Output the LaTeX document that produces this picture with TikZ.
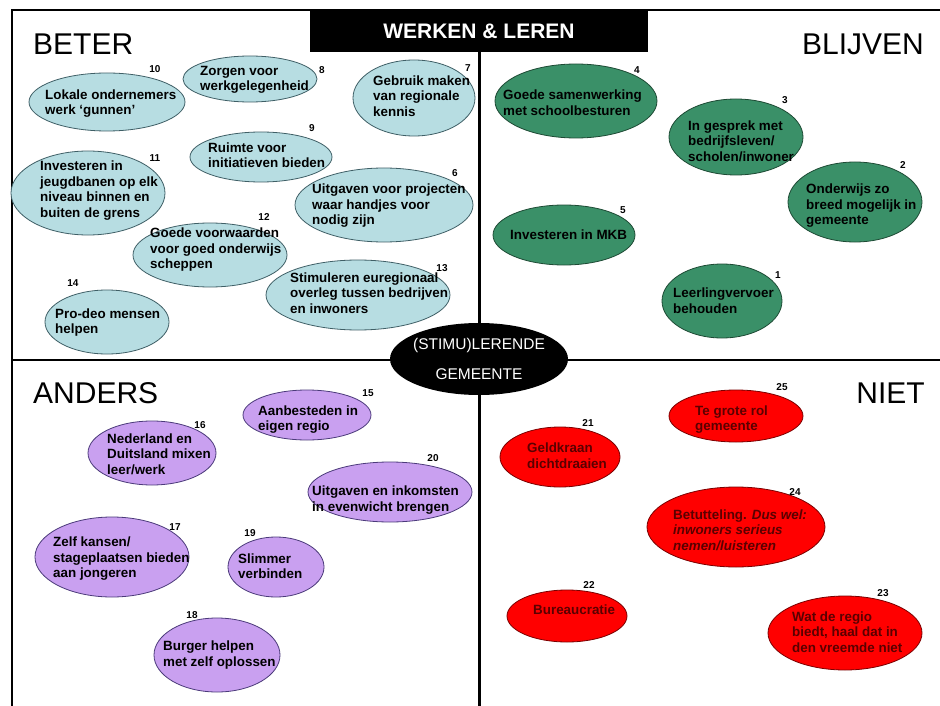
\documentclass[tikz,border=0pt]{standalone}
\usepackage{fontspec}
\setmainfont{Liberation Sans}
\usetikzlibrary{shapes.geometric}
\definecolor{lblue}{HTML}{B7DDE2}
\definecolor{lblueb}{HTML}{3F5F66}
\definecolor{mgreen}{HTML}{3A9068}
\definecolor{mgreenb}{HTML}{1D4A34}
\definecolor{lpurple}{HTML}{C9A0F0}
\definecolor{lpurpleb}{HTML}{4B3A7A}
\definecolor{bred}{HTML}{FF0000}
\definecolor{bredb}{HTML}{7A0000}
\definecolor{dred}{HTML}{5A0000}
\tikzset{
  bub/.style={ellipse, draw, line width=0.8pt, inner sep=0pt},
  bluebub/.style={bub, fill=lblue, draw=lblueb},
  greenbub/.style={bub, fill=mgreen, draw=mgreenb},
  purplebub/.style={bub, fill=lpurple, draw=lpurpleb},
  redbub/.style={bub, fill=bred, draw=bredb},
  txt/.style={anchor=west, inner sep=0pt, align=left, font=\bfseries\fontsize{13.4}{15.5}\selectfont},
  redtxt/.style={txt, text=dred},
  num/.style={inner sep=0pt, font=\bfseries\fontsize{10}{12}\selectfont},
  quad/.style={inner sep=0pt, font=\fontsize{30}{36}\selectfont},
  divider/.style={line width=2.5pt, black},
}
\newcommand{\bb}[5]{\node[#1, minimum width=#4*2pt, minimum height=#5*2pt] (#2) at #3 {};}
\begin{document}
\begin{tikzpicture}[x=1pt,y=-1pt]
\useasboundingbox[fill=white] (0,0) rectangle (940,706);
% frame
\coordinate (fbl) at (12,706);
\coordinate (ftl) at (12,10);
\coordinate (ftr) at (940,10);
\draw[line width=1.5pt] (fbl) -- (ftl) -- (ftr);
% dividers
\coordinate (vtop) at (479.5,52);
\coordinate (vbot) at (479.5,706);
\coordinate (hl) at (12,360);
\coordinate (hr) at (940,360);
\draw[divider] (vtop) -- (vbot);
\draw[divider] (hl) -- (hr);
% title
\node[fill=black, minimum width=338pt, minimum height=42pt, inner sep=0pt,
  text=white, font=\bfseries\fontsize{21}{24}\selectfont] (title) at (479,31) {WERKEN \& LEREN};
% quadrant labels
\node[quad, anchor=base west] (beter) at (33,55) {BETER};
\node[quad, anchor=base east] (blijven) at (924,55) {BLIJVEN};
\node[quad, anchor=base west] (anders) at (33,403) {ANDERS};
\node[quad, anchor=base east] (niet) at (925,403) {NIET};

% ---- BETER (blue)
\bb{bluebub}{e10}{(107,102)}{78}{29}
\bb{bluebub}{e8}{(250,79)}{67}{23}
\bb{bluebub}{e7}{(414,98)}{61}{38}
\bb{bluebub}{e9}{(261,157)}{71}{25}
\bb{bluebub}{e11}{(88,193)}{77}{42}
\bb{bluebub}{e6}{(384,205)}{89}{37}
\bb{bluebub}{e12}{(210,255)}{77}{32}
\bb{bluebub}{e13}{(358,295)}{92}{35}
\bb{bluebub}{e14}{(107,322)}{62}{32}
\node[txt] (t10) at (45,103.5) {Lokale ondernemers\\werk ‘gunnen’};
\node[txt] (t8) at (200,80) {Zorgen voor\\werkgelegenheid};
\node[txt] (t7) at (373,96) {Gebruik maken\\van regionale\\kennis};
\node[txt] (t9) at (208,155) {Ruimte voor\\initiatieven bieden};
\node[txt] (t11) at (40,190.5) {Investeren in\\jeugdbanen op elk\\niveau binnen en\\buiten de grens};
\node[txt] (t6) at (312,206) {Uitgaven voor projecten\\waar handjes voor\\nodig zijn};
\node[txt] (t12) at (150,250) {Goede voorwaarden\\voor goed onderwijs\\scheppen};
\node[txt] (t13) at (290,293) {Stimuleren euregionaal\\overleg tussen bedrijven\\en inwoners};
\node[txt] (t14) at (55,322.5) {Pro-deo mensen\\helpen};
\node[num] (n10) at (155,69) {10};
\node[num] (n8) at (322,70) {8};
\node[num] (n7) at (468,68) {7};
\node[num] (n9) at (312,128) {9};
\node[num] (n11) at (155,158) {11};
\node[num] (n6) at (455,173) {6};
\node[num] (n12) at (264,217) {12};
\node[num] (n13) at (442,268) {13};
\node[num] (n14) at (73,283) {14};

% ---- BLIJVEN (green)
\bb{greenbub}{e4}{(576,101)}{81}{37}
\bb{greenbub}{e3}{(736,137)}{67}{38}
\bb{greenbub}{e2}{(855,202)}{67}{40}
\bb{greenbub}{e5}{(564,235)}{71}{30}
\bb{greenbub}{e1}{(722,301)}{60}{37}
\node[txt] (t4) at (503,102.5) {Goede samenwerking\\met schoolbesturen};
\node[txt] (t3) at (688,141) {In gesprek met\\bedrijfsleven/\\scholen/inwoner};
\node[txt] (t2) at (806,206) {Onderwijs zo\\breed mogelijk in\\gemeente};
\node[txt] (t5) at (510,235) {Investeren in MKB};
\node[txt] (t1) at (673,300.5) {Leerlingvervoer\\behouden};
\node[num] (n4) at (637,70) {4};
\node[num] (n3) at (785,100) {3};
\node[num] (n2) at (903,165) {2};
\node[num] (n5) at (623,210) {5};
\node[num] (n1) at (778,275) {1};

% ---- ANDERS (purple)
\bb{purplebub}{e15}{(307,415)}{64}{25}
\bb{purplebub}{e16}{(152,453)}{64}{32}
\bb{purplebub}{e20}{(390,492)}{82}{30}
\bb{purplebub}{e17}{(112,557)}{77}{40}
\bb{purplebub}{e19}{(276,567)}{48}{30}
\bb{purplebub}{e18}{(217,655)}{63}{37}
\node[txt] (t15) at (258,419.5) {Aanbesteden in\\eigen regio};
\node[txt] (t16) at (107,454) {Nederland en\\Duitsland mixen\\leer/werk};
\node[txt] (t20) at (312,500) {Uitgaven en inkomsten\\in evenwicht brengen};
\node[txt] (t17) at (53,559) {Zelf kansen/\\stageplaatsen bieden\\aan jongeren};
\node[txt] (t19) at (238,566) {Slimmer\\verbinden};
\node[txt] (t18) at (163,655) {Burger helpen\\met zelf oplossen};
\node[num] (n15) at (368,393) {15};
\node[num] (n16) at (200,425) {16};
\node[num] (n20) at (433,458) {20};
\node[num] (n17) at (175,527) {17};
\node[num] (n19) at (250,533) {19};
\node[num] (n18) at (192,615) {18};

% ---- NIET (red)
\bb{redbub}{e25}{(736,416)}{67}{26}
\bb{redbub}{e21}{(560,457)}{60}{30}
\bb{redbub}{e24}{(736,527)}{89}{40}
\bb{redbub}{e22}{(567,616)}{60}{26}
\bb{redbub}{e23}{(845,633)}{77}{37}
\node[redtxt] (t25) at (695,419.5) {Te grote rol\\gemeente};
\node[redtxt] (t21) at (527,455.5) {Geldkraan\\dichtdraaien};
\node[redtxt] (t24) at (673,530) {Betutteling. \textit{Dus wel:}\\\textit{inwoners serieus}\\\textit{nemen/luisteren}};
\node[redtxt] (t22) at (533,610) {Bureaucratie};
\node[redtxt] (t23) at (792,632) {Wat de regio\\biedt, haal dat in\\den vreemde niet};
\node[num] (n25) at (782,387) {25};
\node[num] (n21) at (588,423) {21};
\node[num] (n24) at (795,492) {24};
\node[num] (n22) at (589,585) {22};
\node[num] (n23) at (883,593) {23};

% centre
\node[ellipse, fill=black, minimum width=178pt, minimum height=72pt, inner sep=0pt] (centre) at (479,359) {};
\node[text=white, inner sep=0pt, font=\fontsize{15.5}{18}\selectfont] (c1) at (479,345) {(STIMU)LERENDE};
\node[text=white, inner sep=0pt, font=\fontsize{15.5}{18}\selectfont] (c2) at (479,374) {GEMEENTE};
\end{tikzpicture}
\end{document}
